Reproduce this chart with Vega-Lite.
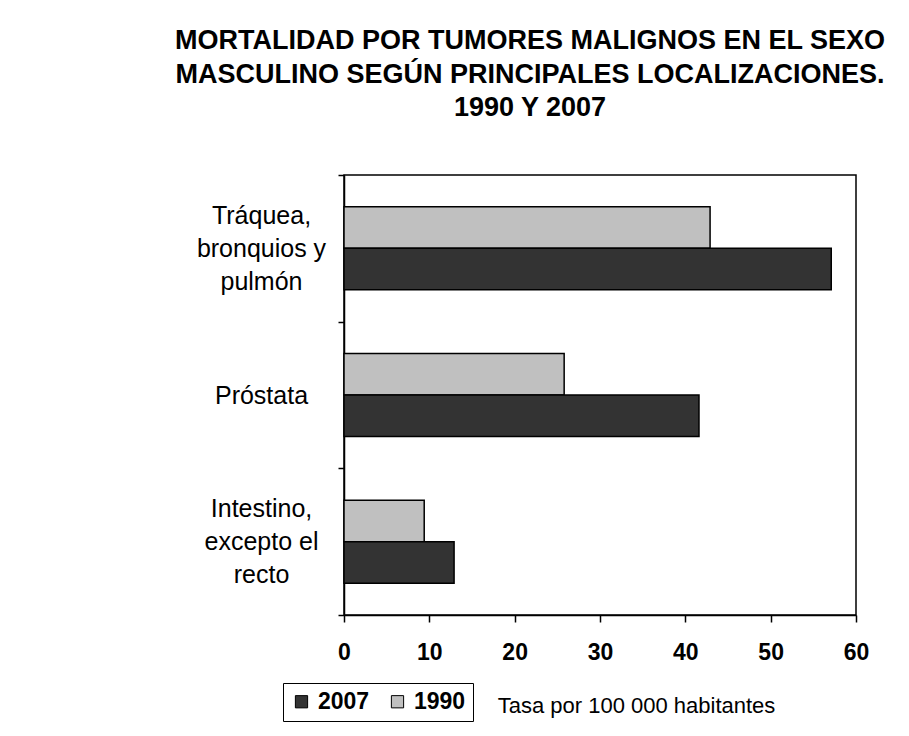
{
  "$schema": "https://vega.github.io/schema/vega-lite/v6.json",
  "width": 512,
  "height": 440,
  "autosize": {"type": "none"},
  "padding": {"left": 344, "top": 175, "right": 53, "bottom": 121},
  "background": "white",
  "title": {
    "text": ["MORTALIDAD POR TUMORES MALIGNOS EN EL SEXO", "MASCULINO SEGÚN PRINCIPALES LOCALIZACIONES.", "1990 Y 2007"],
    "font": "Liberation Sans",
    "fontSize": 27,
    "fontWeight": "bold",
    "color": "black",
    "lineHeight": 33.5,
    "anchor": "middle",
    "dx": -70,
    "offset": 41
  },
  "data": {
    "values": [
      {"loc": "Tráquea,|bronquios y|pulmón", "year": "1990", "tasa": 42.9},
      {"loc": "Tráquea,|bronquios y|pulmón", "year": "2007", "tasa": 57.1},
      {"loc": " |Próstata| ", "year": "1990", "tasa": 25.8},
      {"loc": " |Próstata| ", "year": "2007", "tasa": 41.6},
      {"loc": "Intestino,|excepto el|recto", "year": "1990", "tasa": 9.4},
      {"loc": "Intestino,|excepto el|recto", "year": "2007", "tasa": 12.9}
    ]
  },
  "mark": {"type": "bar", "stroke": "black", "strokeWidth": 1.5},
  "encoding": {
    "y": {
      "field": "loc",
      "type": "nominal",
      "sort": null,
      "scale": {"paddingInner": 0, "paddingOuter": 0},
      "axis": {
        "title": null,
        "labelExpr": "split(datum.label, '|')",
        "labelFont": "Liberation Sans",
        "labelFontSize": 25,
        "labelColor": "black",
        "labelLineHeight": 33,
        "labelAlign": "center",
        "labelBaseline": "middle",
        "labelOffset": -33,
        "labelPadding": 77,
        "tickSize": 6,
        "tickBand": "extent",
        "tickColor": "black",
        "tickWidth": 1.5,
        "domainColor": "black",
        "domainWidth": 1.5,
        "grid": false
      }
    },
    "yOffset": {
      "field": "year",
      "type": "nominal",
      "sort": ["1990", "2007"],
      "scale": {"paddingInner": 0, "paddingOuter": 0.767}
    },
    "x": {
      "field": "tasa",
      "type": "quantitative",
      "scale": {"domain": [0, 60], "nice": false},
      "axis": {
        "values": [0, 10, 20, 30, 40, 50, 60],
        "title": "Tasa por 100 000 habitantes",
        "titleFont": "Liberation Sans",
        "titleFontSize": 22,
        "titleFontWeight": "normal",
        "titleColor": "black",
        "titleX": 292,
        "titleY": 90,
        "titleAlign": "center",
        "titleBaseline": "middle",
        "titleAnchor": null,
        "labelFont": "Liberation Sans",
        "labelFontSize": 23,
        "labelFontWeight": "bold",
        "labelColor": "black",
        "labelBaseline": "middle",
        "labelPadding": 30,
        "labelFlush": false,
        "tickSize": 7,
        "tickColor": "black",
        "tickWidth": 1.5,
        "domainColor": "black",
        "domainWidth": 1.5,
        "grid": false
      }
    },
    "color": {
      "field": "year",
      "type": "nominal",
      "scale": {"domain": ["2007", "1990"], "range": ["#333333", "#C0C0C0"]},
      "legend": {
        "title": null,
        "orient": "none",
        "legendX": -61,
        "legendY": 508,
        "direction": "horizontal",
        "symbolType": "square",
        "symbolSize": 150,
        "symbolStrokeColor": "black",
        "symbolStrokeWidth": 1,
        "symbolOpacity": 1,
        "labelFont": "Liberation Sans",
        "labelFontSize": 23,
        "labelFontWeight": "bold",
        "labelColor": "black",
        "labelOffset": 5,
        "columnPadding": 16,
        "padding": 7,
        "strokeColor": "black",
        "fillColor": "white"
      }
    }
  },
  "config": {
    "view": {"stroke": "black", "strokeWidth": 1.5}
  }
}
